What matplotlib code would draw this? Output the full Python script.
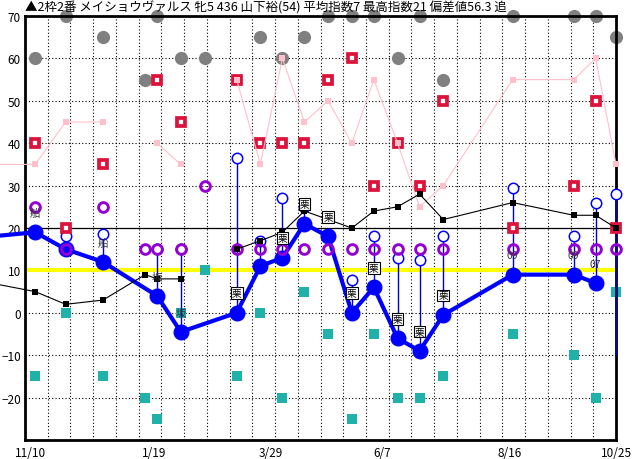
import numpy as np
from matplotlib import pyplot as plt

plt.rcParams['font.family'] = ['Noto Sans CJK JP', 'DejaVu Sans']

title = '▲2枠2番 メイショウヴァルス 牝5 436 山下裕(54) 平均指数7 最高指数21 偏差値56.3 追'

nan = np.nan
# days since 11/10 (first entry = previous race, just off the left edge)
days = np.array([-20, 6, 24, 46, 71, 78, 92, 106, 125, 139, 152, 165, 179,
                 193, 206, 220, 233, 247, 288, 324, 337, 349])
# main index (big blue dots)
idx = np.array([18, 19, 15, 12, nan, 4, -4.5, nan, 0, 11, 13, 21, 18,
                0, 6, -6, -9, -0.5, 9, 9, 7, nan])
# blue open circles and stem ends
stem_top = np.array([nan, nan, 18, 18.5, nan, 15, 15, nan, 36.5, 17, 27, 25, nan,
                     7.7, 18, 13, 12.5, 18, 29.5, 18, 26, 28])
stem_low = np.array([nan, nan, 15, 12, nan, 4, -4.5, nan, 0, 11, 13, 21, nan,
                     0, 6, -6, -9, -0.5, 9, 9, 7, -10])
# black line (average)
avg = np.array([7, 5, 2, 3, 9, 8, 8, nan, 15, 17, 19, 24, 22,
                20, 24, 25, 28, 22, 26, 23, 23, 20])
# pink line
pink = np.array([35, 35, 45, 45, nan, 40, 35, nan, 55, 35, 60, 45, 50,
                 40, 55, 40, 25, 30, 55, 55, 60, 35])
# red squares
red = np.array([nan, 40, 20, 35, nan, 55, 45, nan, 55, 40, 40, 40, 55,
                60, 30, 40, 30, 50, 20, 30, 50, 20])
# purple rings
purple = np.array([nan, 25, 15, 25, 15, 15, 15, 30, 15, 15, 15, 15, 15,
                   15, 15, 15, 15, 15, 15, 15, 15, 15])
# gray dots
gray = np.array([nan, 60, 70, 65, 55, 70, 60, 60, nan, 65, 60, 65, 70,
                 70, 70, 60, 70, 55, 70, 70, 70, 65])
# teal squares
teal = np.array([nan, -15, 0, -15, -20, -25, 0, 10, -15, 0, -20, 5, -5,
                 -25, -5, -20, -20, -15, -5, -10, -20, 5])
# small marks above the dots
marks = ['', '船', '', '船', '', '坂', '坂', '', '栗', '', '栗', '栗', '栗',
         '栗', '栗', '栗', '栗', '栗', '09', '09', '07', '']

tick_pos = [3, 76, 145, 211, 286, 349]
tick_labels = ['11/10', '1/19', '3/29', '6/7', '8/16', '10/25']
y_ticks = [70, 60, 50, 40, 30, 20, 10, 0, -10, -20]

fig = plt.figure(figsize=(6.32, 4.60), dpi=100)
ax = fig.add_axes([25 / 632, 19 / 460, 591 / 632, 424 / 460])
ax.set_xlim(0, 349)
ax.set_ylim(-30, 70)

# grid
for x in np.linspace(0, 349, 27)[1:-1]:
    ax.axvline(x, color='black', lw=0.8, ls=(0, (1, 2)), zorder=1)
for y in [60, 50, 40, 30, 0, -10, -20]:
    ax.axhline(y, color='black', lw=0.8, ls=(0, (1, 2)), zorder=1)
ax.axhline(20, color='black', lw=0.9, zorder=1.2)
ax.axhline(10, color='#FFFF00', lw=3, zorder=1.2)

ax.plot(days, gray, ls='none', marker='o', ms=9.5, color='#808080',
        mew=0, clip_on=False, zorder=2)
ax.plot(days, teal, ls='none', marker='s', ms=6.5, color='#20B2AA',
        mew=0, clip_on=False, zorder=2)

ax.vlines(days, stem_low, stem_top, color='#0000CC', lw=1, zorder=3, clip_on=False)

ok = ~np.isnan(idx)
ax.plot(days[ok], idx[ok], color='#0000FF', lw=3, marker='o', ms=10.5,
        clip_on=False, zorder=4)

ax.plot(days, stem_top, ls='none', marker='o', ms=7.5, mfc='white',
        mec='#0000FF', mew=1.1, clip_on=False, zorder=4.5)
ax.plot(days, purple, ls='none', marker='o', ms=7, mfc='none',
        mec='#9400D3', mew=2.1, clip_on=False, zorder=5)
ax.plot(days, red, ls='none', marker='s', ms=5.3, mfc='white',
        mec='#DC143C', mew=2.7, clip_on=False, zorder=6)
ax.plot(days, pink, color='#FFC0CB', lw=0.8, marker='s', ms=4.3, mew=0,
        clip_on=False, zorder=7)
ax.plot(days, avg, color='black', lw=0.8, marker='s', ms=3.8, mew=0,
        clip_on=False, zorder=8)

for d, v, m in zip(days, idx, marks):
    if not m or np.isnan(v):
        continue
    if m == '栗':
        ax.annotate(m, (d, v), xytext=(0, 14), textcoords='offset points',
                    ha='center', va='center', fontsize=7, zorder=9,
                    bbox=dict(boxstyle='square,pad=0.1', fc='white',
                              ec='black', lw=0.8))
    else:
        ax.annotate(m, (d, v), xytext=(0, 14), textcoords='offset points',
                    ha='center', va='center', fontsize=7.5, color='#333333',
                    zorder=9)

for s in ax.spines.values():
    s.set_linewidth(2)
ax.set_xticks(tick_pos)
ax.set_xticklabels(tick_labels)
ax.set_yticks(y_ticks)
ax.tick_params(length=0, labelsize=8.5)
ax.tick_params(axis='x', pad=4)
ax.tick_params(axis='y', pad=3)

fig.text(25 / 632, 1 - 8 / 460, title, ha='left', va='center', fontsize=9)

plt.savefig('out.png', dpi=100)
